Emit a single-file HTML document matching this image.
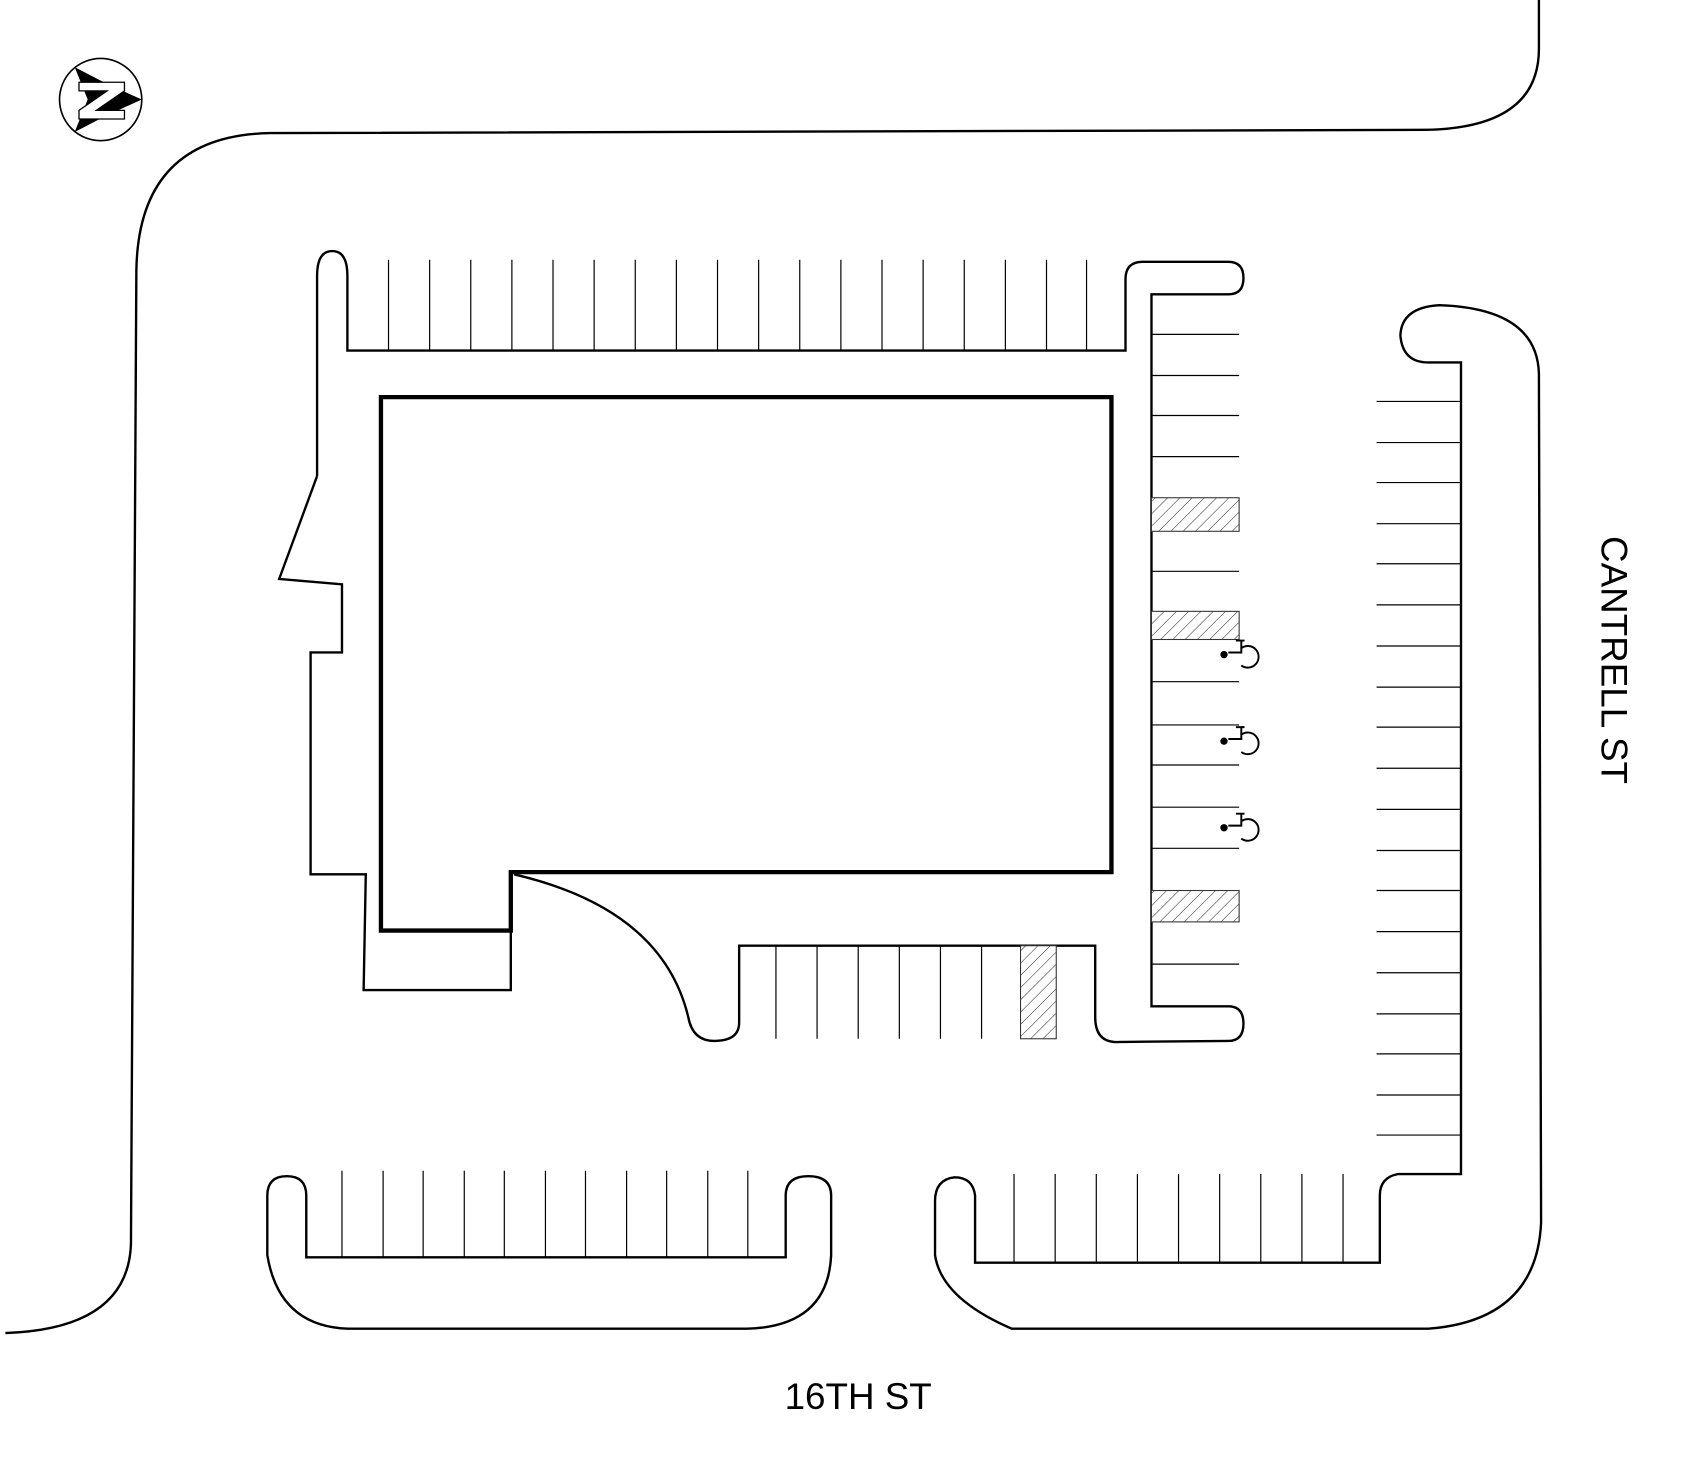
<!DOCTYPE html>
<html><head><style>html,body{margin:0;padding:0;background:#fff}svg{display:block}</style></head>
<body>
<svg width="1698" height="1464" viewBox="0 0 1569 1353" preserveAspectRatio="none" xmlns="http://www.w3.org/2000/svg">
<defs>
<pattern id="h" patternUnits="userSpaceOnUse" width="8" height="8" patternTransform="rotate(45)">
<rect width="8" height="8" fill="#fff"/><line x1="0" y1="0" x2="0" y2="8" stroke="#000" stroke-width="0.8"/>
</pattern>
</defs>
<g fill="none" stroke="#000" stroke-width="2.2">
<path d="M1422 0 V45 Q1422 118 1318 120 L250 123 Q128 125 126 250 L121 1150 Q118 1228 5 1232"/>
<path d="M293 440 V255 Q293 232 307 232 Q321 232 321 255 V324 H1040 V258 Q1040 242 1056 242 H1135 Q1149 242 1149 257 Q1149 272 1135 272 H1064 V930 H1135 Q1149 930 1149 946 Q1149 962 1135 962 L1030 963 Q1012 962 1012 940 V874 H683 V945 Q683 962 660 962 Q640 962 636 940 Q612 840 475 808"/>
<path d="M293 440 L258 535 L316 540 V603 H287 V808 H338 L336 915 H472 V860"/>
<path d="M1350 335 V1085 H1292 Q1275 1088 1275 1105 V1167 H901 V1105 Q899 1088 882 1088 Q864 1090 864 1110 V1160 Q870 1200 935 1228 H1320 Q1420 1220 1424 1130 L1422 345 Q1420 285 1330 282 Q1295 284 1294 310 Q1296 335 1320 335 Z"/>
<path d="M283 1162 V1105 Q283 1087 265 1087 Q247 1087 247 1105 V1160 Q258 1226 322 1228 H690 Q765 1226 768 1160 V1105 Q768 1087 747 1087 Q726 1087 726 1105 V1162 Z"/>
</g>
<path d="M352 367 H1027 V806 H472 V860 H352 Z" fill="none" stroke="#000" stroke-width="4"/>
<g stroke="#000" stroke-width="1.1">
<path d="M359 240V324M397 240V324M435 240V324M473 240V324M511 240V324M549 240V324M587 240V324M625 240V324M663 240V324M701 240V324M739 240V324M777 240V324M815 240V324M853 240V324M891 240V324M929 240V324M967 240V324M1004 240V324"/>
<path d="M1064 309H1145M1064 347H1145M1064 384H1145M1064 422H1145M1064 528H1145M1064 630H1145M1064 670H1145M1064 707H1145M1064 746H1145M1064 784H1145M1064 891H1145"/>
<path d="M717 874V960M755 874V960M793 874V960M831 874V960M869 874V960M907 874V960"/>
<path d="M1272 371H1350M1272 409H1350M1272 446H1350M1272 484H1350M1272 521H1350M1272 559H1350M1272 597H1350M1272 635H1350M1272 672H1350M1272 710H1350M1272 748H1350M1272 786H1350M1272 823H1350M1272 861H1350M1272 899H1350M1272 937H1350M1272 974H1350M1272 1012H1350M1272 1049H1350"/>
<path d="M937 1085V1167M975 1085V1167M1013 1085V1167M1051 1085V1167M1089 1085V1167M1127 1085V1167M1165 1085V1167M1203 1085V1167M1241 1085V1167"/>
<path d="M316 1082V1162M354 1082V1162M391 1082V1162M429 1082V1162M466 1082V1162M504 1082V1162M541 1082V1162M579 1082V1162M616 1082V1162M654 1082V1162M691 1082V1162"/>
</g>
<g stroke="#333" stroke-width="1" fill="url(#h)">
<rect x="1064" y="460" width="81" height="31"/>
<rect x="1064" y="565" width="81" height="26"/>
<rect x="1064" y="823" width="81" height="29"/>
<rect x="943" y="874" width="33" height="86"/>
</g>
<g fill="none" stroke="#000" stroke-width="1.8">
<g transform="translate(1152,605)"><path d="M-2 -13 H-10 M-5 -13 V-2 H-17 M-5 -6 A10 10 0 1 1 -5 10"/><circle cx="-21" cy="0" r="2.5" fill="#000"/></g>
<g transform="translate(1152,685)"><path d="M-2 -13 H-10 M-5 -13 V-2 H-17 M-5 -6 A10 10 0 1 1 -5 10"/><circle cx="-21" cy="0" r="2.5" fill="#000"/></g>
<g transform="translate(1152,765)"><path d="M-2 -13 H-10 M-5 -13 V-2 H-17 M-5 -6 A10 10 0 1 1 -5 10"/><circle cx="-21" cy="0" r="2.5" fill="#000"/></g>
</g>
<g transform="translate(93,92)">
<circle r="38" fill="#fff" stroke="#000" stroke-width="1.5"/>
<path d="M-24 -30 L5 -15 L38 0 L5 15 L-24 30 L-12 0 Z" fill="#000"/>
<path d="M-20 -16 H22 V-8 L-4 10 H22 V18 H-20 V10 L6 -8 H-20 Z" fill="#fff" stroke="#000" stroke-width="1.2"/>
</g>
<text x="793" y="1302" font-family="Liberation Sans, sans-serif" font-size="34" text-anchor="middle" fill="#000">16TH ST</text>
<text transform="translate(1480,610) rotate(90)" font-family="Liberation Sans, sans-serif" font-size="34" text-anchor="middle" fill="#000">CANTRELL ST</text>
</svg>
</body></html>
